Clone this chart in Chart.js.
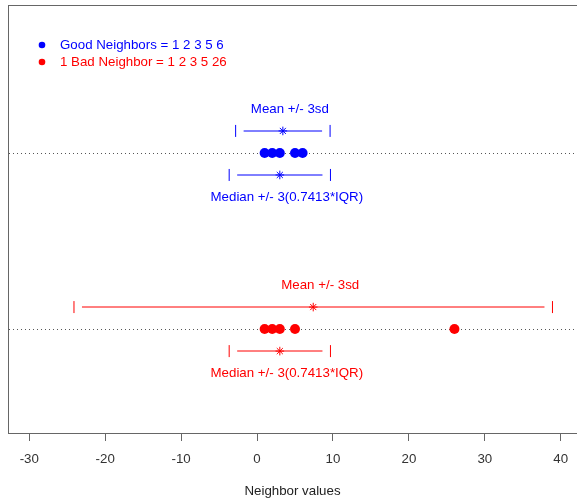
<!DOCTYPE html>
<html><head><meta charset="utf-8">
<script src="https://cdn.jsdelivr.net/npm/chart.js@4/dist/chart.umd.min.js"></script>
<style>html,body{margin:0;padding:0;background:#fff}canvas{display:block}</style>
</head><body>
<canvas id="c" width="577" height="498"></canvas>
<script>
// ---- data ----
const goodValues = [1, 2, 3, 5, 6];
const badValues = [1, 2, 3, 5, 26];
const groupRows = [2, 1];
const meanIntervals = [[-2.82, 3.4, 9.62], [-24.11, 7.4, 38.91]];
const medianIntervals = [[-3.67, 3, 9.67], [-3.67, 3, 9.67]];
const xTicks = [-30, -20, -10, 0, 10, 20, 30, 40];
const legendLabels = ['Good Neighbors = 1 2 3 5 6', '1 Bad Neighbor = 1 2 3 5 26'];
const meanLabel = 'Mean +/- 3sd';
const medianLabel = 'Median +/- 3(0.7413*IQR)';
const axisTitle = 'Neighbor values';
const groupColors = ['rgb(0,0,255)', 'rgb(255,0,0)'];

const FONT = '"Liberation Sans", Arial, Helvetica, sans-serif';
const FS = 13.3;
const ROW_OFF = 0.125, LABEL_OFF = 0.25;
const groups = [goodValues, badValues];

const datasets = [];
groups.forEach((vals, g) => {
  datasets.push({
    data: vals.map(v => ({x: v, y: groupRows[g]})),
    pointStyle: 'circle', pointRadius: 5, pointBackgroundColor: groupColors[g],
    pointBorderWidth: 0, pointBorderColor: groupColors[g], showLine: false
  });
  const ivs = [[meanIntervals[g], groupRows[g] + ROW_OFF], [medianIntervals[g], groupRows[g] - ROW_OFF]];
  datasets.push({
    data: ivs.map(([iv, y]) => ({x: iv[1], y})),
    pointStyle: 'star', pointRadius: 4.3, pointBorderColor: groupColors[g], pointBorderWidth: 1, showLine: false
  });
  datasets.push({
    data: ivs.flatMap(([iv, y]) => [{x: iv[0], y}, {x: iv[2], y}]),
    pointStyle: 'line', pointRotation: 90, pointRadius: 6, pointBorderColor: groupColors[g], pointBorderWidth: 1, showLine: false
  });
});

const decor = {
  id: 'decor',
  beforeDatasetsDraw(chart) {
    const {ctx, chartArea: a, scales: {y}} = chart;
    ctx.save();
    // frame
    ctx.strokeStyle = '#666'; ctx.lineWidth = 1;
    ctx.strokeRect(Math.round(a.left) + 0.5, Math.round(a.top) + 0.5, a.right - a.left + 20, Math.round(a.bottom) - Math.round(a.top));
    // dotted reference lines
    ctx.setLineDash([1, 3]); ctx.strokeStyle = '#555';
    groupRows.forEach(r => {
      const py = Math.round(y.getPixelForValue(r)) + 0.5;
      ctx.beginPath(); ctx.moveTo(a.left + 1, py); ctx.lineTo(a.right, py); ctx.stroke();
    });
    ctx.restore();
  },
  afterDatasetsDraw(chart) {
    const {ctx, scales: {x, y}} = chart;
    ctx.save();
    ctx.setLineDash([]);
    ctx.lineWidth = 1;
    // interval segments (with gaps near the end caps)
    groups.forEach((vals, g) => {
      [[meanIntervals[g], groupRows[g] + ROW_OFF], [medianIntervals[g], groupRows[g] - ROW_OFF]].forEach(([iv, yy]) => {
        const py = Math.round(y.getPixelForValue(yy));
        ctx.strokeStyle = groupColors[g];
        ctx.beginPath();
        ctx.moveTo(x.getPixelForValue(iv[0]) + 8, py);
        ctx.lineTo(x.getPixelForValue(iv[2]) - 8, py);
        ctx.stroke();
      });
    });
    ctx.font = FS + 'px ' + FONT; ctx.textAlign = 'center'; ctx.textBaseline = 'middle';
    groups.forEach((vals, g) => {
      ctx.fillStyle = groupColors[g];
      ctx.fillText(meanLabel, x.getPixelForValue(meanIntervals[g][1]) + 7, y.getPixelForValue(groupRows[g] + LABEL_OFF));
      ctx.fillText(medianLabel, x.getPixelForValue(medianIntervals[g][1]) + 7, y.getPixelForValue(groupRows[g] - LABEL_OFF));
    });
    // legend
    ctx.textAlign = 'left';
    legendLabels.forEach((t, i) => {
      const ly = 45 + i * 17;
      ctx.fillStyle = groupColors[i];
      ctx.beginPath(); ctx.arc(42, ly, 3.3, 0, Math.PI * 2); ctx.fill();
      ctx.fillText(t, 60, ly);
    });
    ctx.restore();
  }
};

new Chart(document.getElementById('c'), {
  type: 'scatter',
  data: {datasets},
  options: {
    responsive: false, animation: false, devicePixelRatio: 1,
    layout: {autoPadding: false, padding: {left: 8, top: 5, right: 0, bottom: 0}},
    plugins: {legend: {display: false}, tooltip: {enabled: false}},
    scales: {
      x: {
        type: 'linear', min: -32.8, max: 42.14,
        afterBuildTicks: s => { s.ticks = xTicks.map(v => ({value: v})); },
        afterFit: s => { s.height = 65; s.paddingLeft = 0; s.paddingRight = 0; },
        grid: {drawOnChartArea: false, drawTicks: true, tickLength: 8, color: '#666'},
        border: {display: false},
        ticks: {font: {size: FS, family: FONT}, color: '#333', padding: 10, maxRotation: 0, callback: v => String(v)},
        title: {display: true, text: axisTitle, font: {size: FS, family: FONT}, color: '#222', padding: {top: 0, bottom: -1}}
      },
      y: {type: 'linear', display: false, min: 0.41, max: 2.84}
    }
  },
  plugins: [decor]
});
</script>
</body></html>
